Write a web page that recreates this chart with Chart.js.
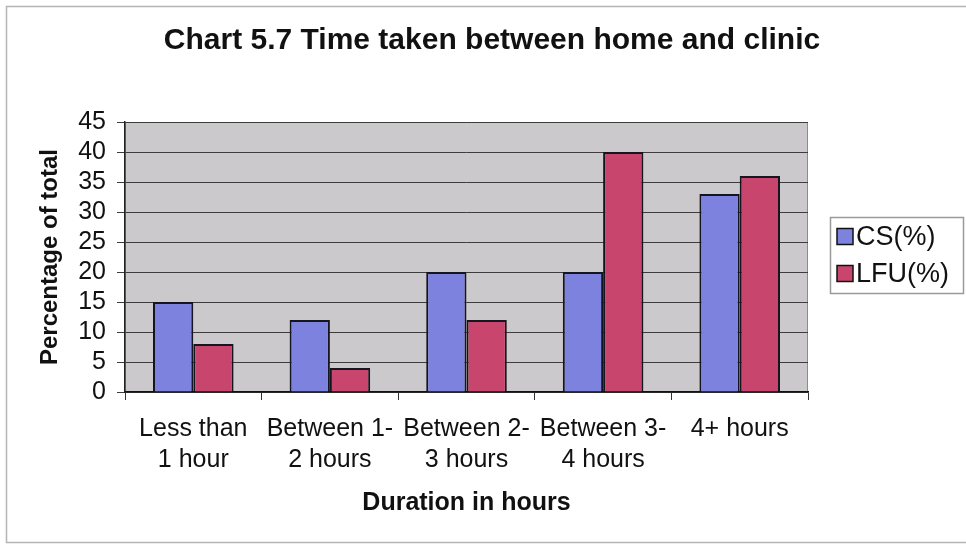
<!DOCTYPE html>
<html>
<head>
<meta charset="utf-8">
<script src="https://cdn.jsdelivr.net/npm/chart.js@4/dist/chart.umd.min.js"></script>
<style>
  html, body { margin: 0; padding: 0; background: #fff; }
  #wrap { width: 966px; height: 545px; position: relative; }
</style>
</head>
<body>
<div id="wrap"><canvas id="c" width="966" height="545"></canvas></div>
<script>
// Travel time categories (two-line labels)
const categories = [
  ['Less than', '1 hour'],
  ['Between 1-', '2 hours'],
  ['Between 2-', '3 hours'],
  ['Between 3-', '4 hours'],
  ['4+ hours']
];
// Percentages per group
const csValues  = [15, 12, 20, 20, 33];
const lfuValues = [8, 4, 12, 40, 36];
const seriesNames = ['CS(%)', 'LFU(%)'];
const seriesColors = ['#7d82df', '#c8466e'];
// Value axis range
const yMin = 0, yMax = 45, yStep = 5;

const FONT = "'Liberation Sans', Arial, Helvetica, sans-serif";

// Frame, grey plot background and boxed legend in the classic spreadsheet style
const spreadsheetLook = {
  id: 'spreadsheetLook',
  beforeDraw(chart) {
    const { ctx, chartArea: ca } = chart;
    ctx.save();
    ctx.fillStyle = '#ffffff';
    ctx.fillRect(0, 0, chart.width, chart.height);
    ctx.strokeStyle = '#b4b4b4';
    ctx.lineWidth = 1.5;
    ctx.strokeRect(6.5, 6.5, chart.width + 20, chart.height - 9);
    ctx.fillStyle = '#cbc9cb';
    ctx.fillRect(ca.left, ca.top, ca.right - ca.left, ca.bottom - ca.top);
    ctx.strokeStyle = '#8c8c8c';
    ctx.lineWidth = 1;
    ctx.strokeRect(ca.left + 0.5, ca.top + 0.5, ca.right - ca.left - 1, ca.bottom - ca.top);
    ctx.restore();
  },
  afterDraw(chart) {
    const { ctx, chartArea: ca } = chart;
    const sets = chart.data.datasets;
    const left = ca.right + 22;
    const w = 133, rowGap = 37;
    const h = 76;
    const midY = (ca.top + ca.bottom) / 2 - 2;
    const top = midY - h / 2;
    ctx.save();
    ctx.strokeStyle = '#9a9a9a';
    ctx.lineWidth = 1.5;
    ctx.strokeRect(left + 0.5, top + 0.5, w, h);
    ctx.font = '27px ' + FONT;
    ctx.textBaseline = 'middle';
    ctx.textAlign = 'left';
    sets.forEach((ds, i) => {
      const cy = midY + (i - (sets.length - 1) / 2) * rowGap;
      ctx.fillStyle = ds.backgroundColor;
      ctx.fillRect(left + 7, cy - 8, 16, 16);
      ctx.strokeStyle = '#111';
      ctx.lineWidth = 1.5;
      ctx.strokeRect(left + 7, cy - 8, 16, 16);
      ctx.fillStyle = '#111';
      ctx.fillText(ds.label, left + 26, cy + 1);
    });
    ctx.restore();
  }
};

new Chart(document.getElementById('c'), {
  type: 'bar',
  data: {
    labels: categories,
    datasets: [
      { label: seriesNames[0], data: csValues, backgroundColor: seriesColors[0] },
      { label: seriesNames[1], data: lfuValues, backgroundColor: seriesColors[1] }
    ]
  },
  options: {
    responsive: false,
    animation: false,
    devicePixelRatio: 1,
    layout: { padding: { left: 18, right: 0, top: 6, bottom: 0 } },
    datasets: {
      bar: {
        borderColor: '#15151f',
        borderWidth: 2,
        categoryPercentage: 0.59,
        barPercentage: 1.0
      }
    },
    plugins: {
      legend: { display: false },
      tooltip: { enabled: false },
      title: {
        display: true,
        text: 'Chart 5.7 Time taken between home and clinic',
        color: '#111',
        font: { family: FONT, size: 30, weight: 'bold', lineHeight: 1.2 },
        padding: { top: 17, bottom: 63 }
      }
    },
    scales: {
      x: {
        grid: { drawOnChartArea: false, drawTicks: true, tickLength: 8, color: '#333' },
        border: { color: '#111', width: 1.5 },
        ticks: {
          color: '#111',
          font: { family: FONT, size: 25, lineHeight: 1.24 },
          padding: 14,
          maxRotation: 0, minRotation: 0, autoSkip: false
        },
        title: {
          display: true,
          text: 'Duration in hours',
          color: '#111',
          font: { family: FONT, size: 25, weight: 'bold', lineHeight: 1.2 },
          padding: { top: 0, bottom: 27 }
        },
        afterFit(s) { s.height = 153; }
      },
      y: {
        position: 'left',
        min: yMin, max: yMax,
        ticks: {
          stepSize: yStep,
          autoSkip: false,
          color: '#111',
          font: { family: FONT, size: 25, lineHeight: 1.0 },
          padding: 11
        },
        grid: { color: '#3c3c3c', lineWidth: 1, tickLength: 8, drawTicks: true },
        border: { color: '#222', width: 1.5 },
        title: {
          display: true,
          text: 'Percentage of total',
          color: '#111',
          font: { family: FONT, size: 24, weight: 'bold', lineHeight: 1.2 },
          padding: { top: 18, bottom: 0 }
        },
        afterFit(s) { s.width = 107; }
      },
      legendSpace: {
        type: 'linear',
        position: 'right',
        display: true,
        grid: { display: false, drawTicks: false },
        border: { display: false },
        ticks: { display: false },
        afterFit(s) { s.width = 158; }
      }
    }
  },
  plugins: [spreadsheetLook]
});
</script>
</body>
</html>
